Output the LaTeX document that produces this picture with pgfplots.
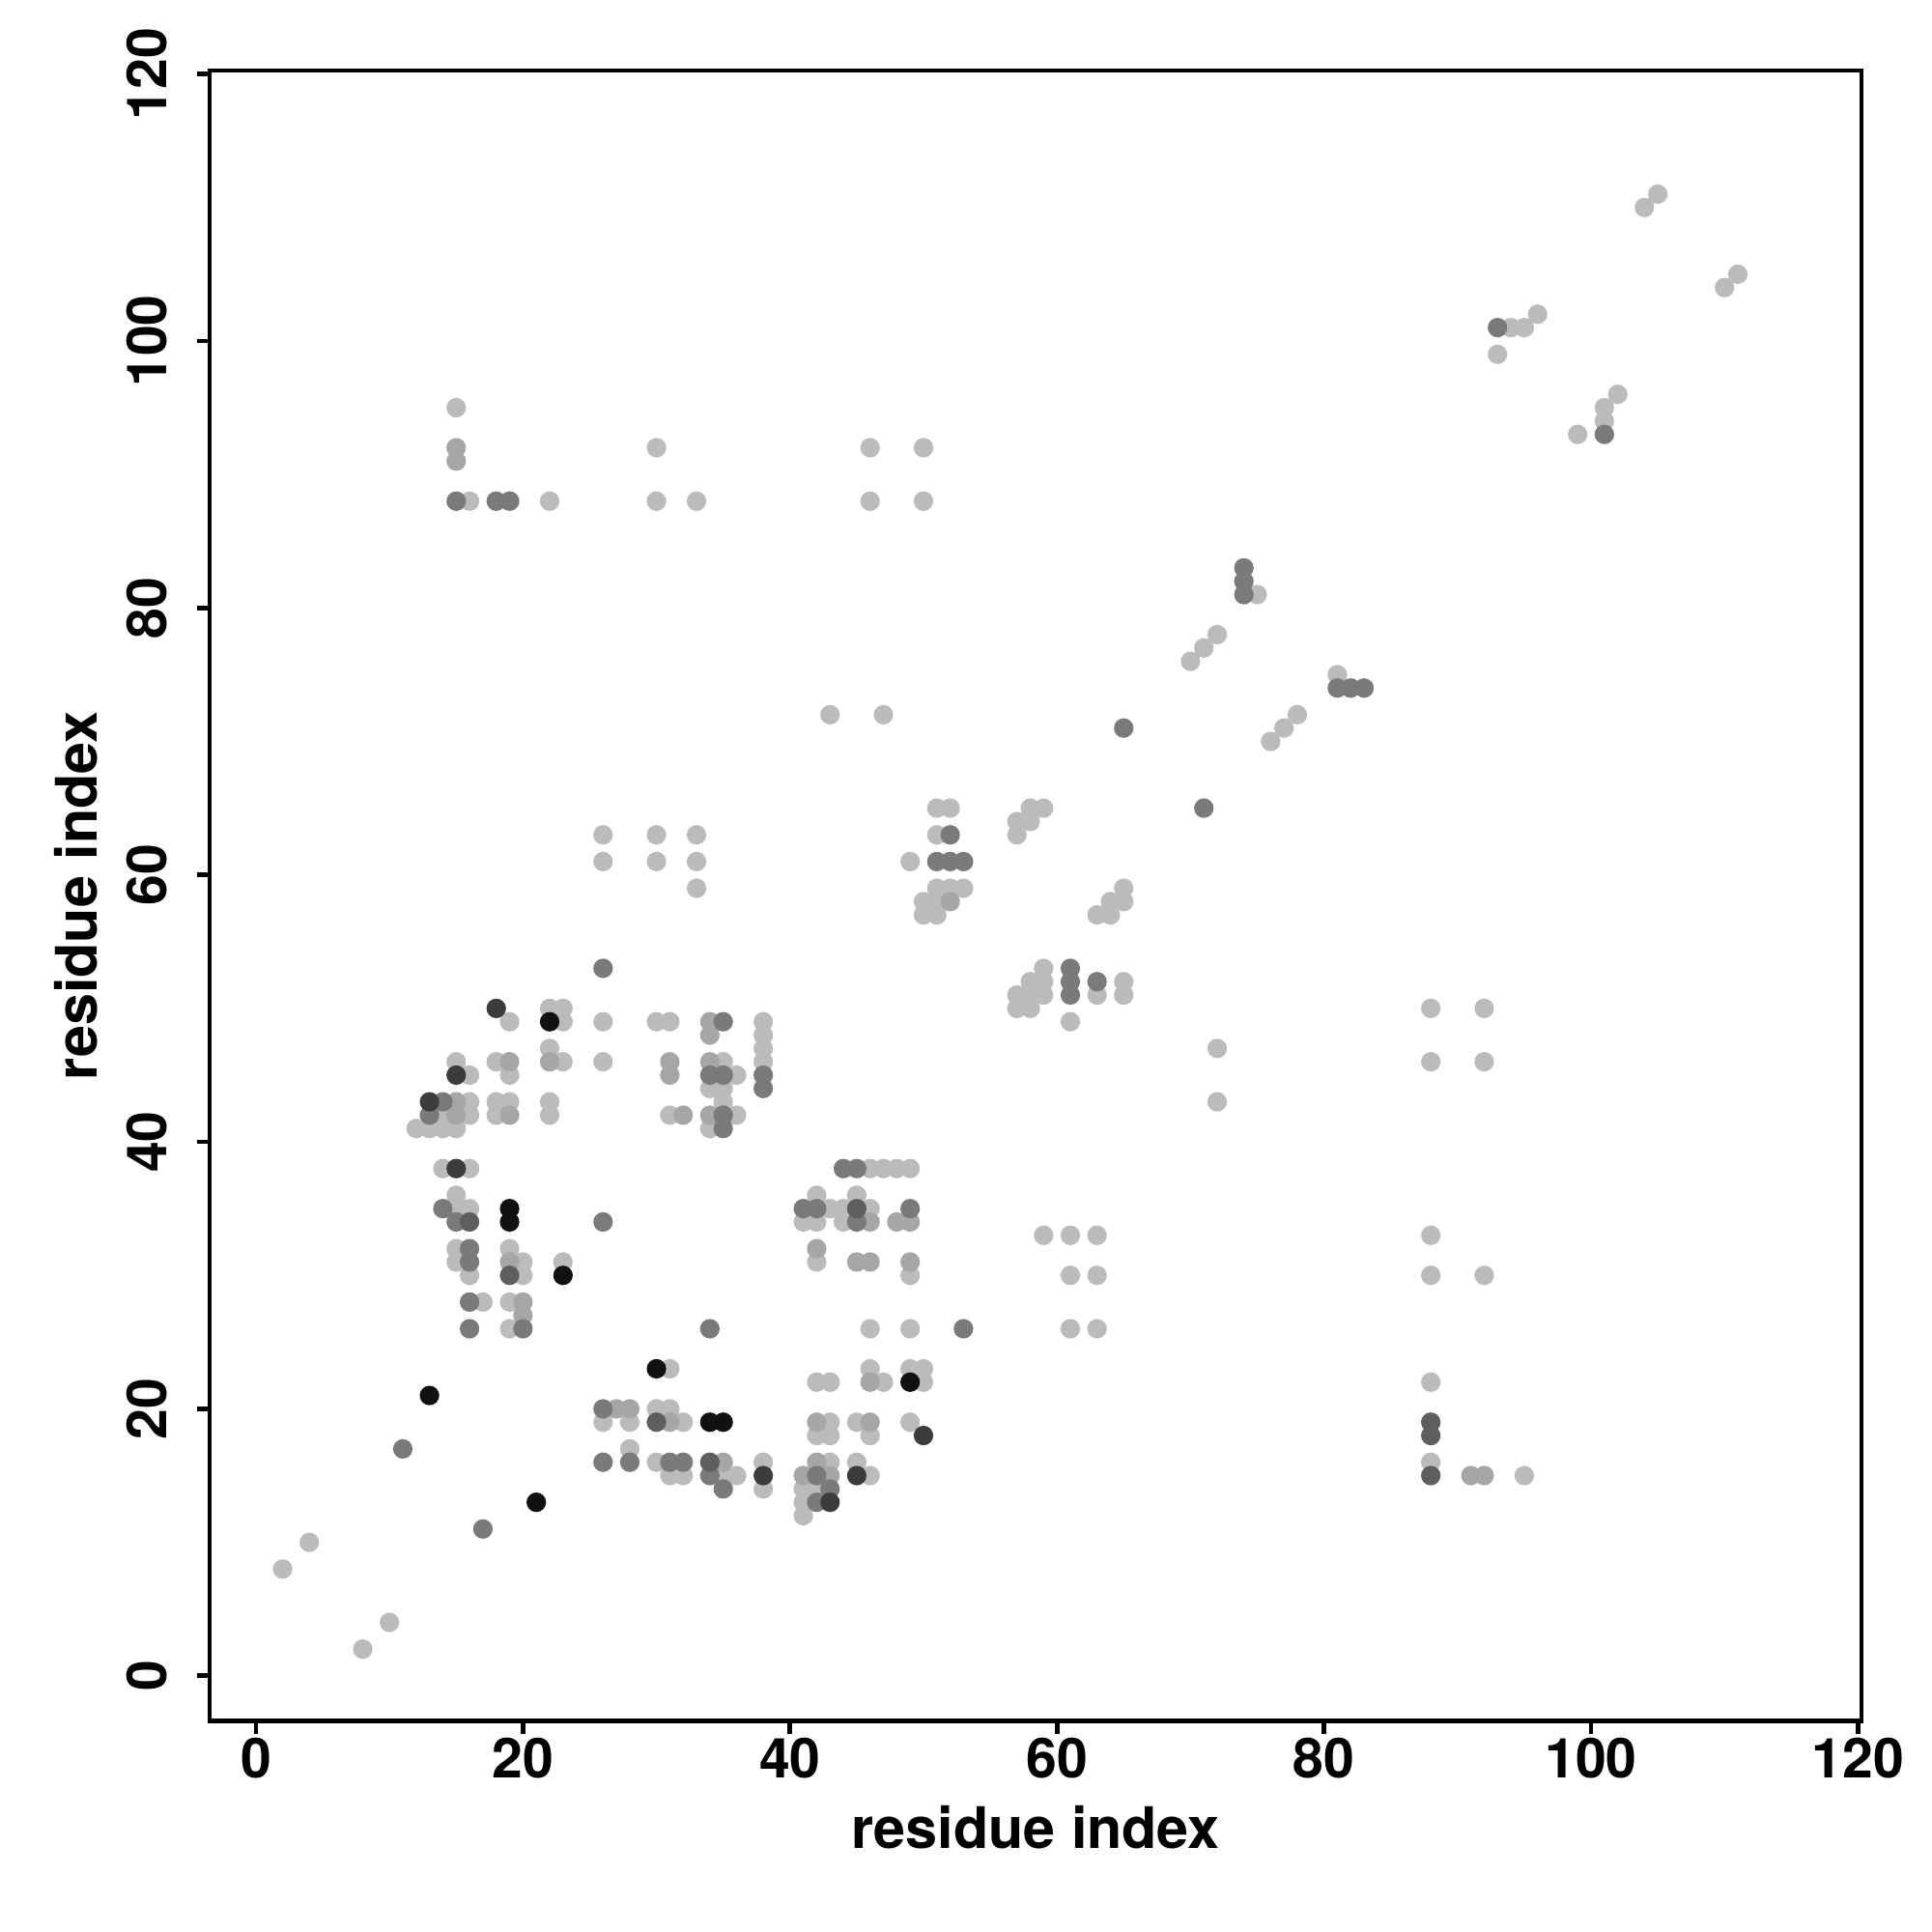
\documentclass[border=0pt]{standalone}
\usepackage{pgfplots}
\pgfplotsset{compat=1.18}
\usepackage{fontspec}
\setmainfont{TeX Gyre Heros}
\definecolor{cLight}{HTML}{BBBBBB}
\definecolor{cMed}{HTML}{A6A6A6}
\definecolor{cDark}{HTML}{7A7A7A}
\definecolor{cDarker}{HTML}{5E5E5E}
\definecolor{cVDark}{HTML}{3C3C3C}
\definecolor{cBlack}{HTML}{111111}
\begin{document}
\begin{tikzpicture}
\useasboundingbox (-1.736cm,-1.744cm) rectangle (14.264cm,14.254cm);
\begin{axis}[
  scale only axis,
  width=13.68cm, height=13.67cm,
  at={(0,0)}, anchor=south west,
  xmin=-3.47, xmax=120.26,
  ymin=-3.40, ymax=120.26,
  xtick={0,20,...,120}, ytick={0,20,...,120},
  tick pos=left, tick align=outside,
  major tick length=0.105cm,
  axis line style={black, line width=1.1pt},
  tick style={black, line width=1.1pt},
  /pgf/number format/assume math mode=true,
  ticklabel style={font=\fontsize{13}{15}\selectfont\bfseries},
  xticklabel style={anchor=center, yshift=-0.205cm},
  yticklabel style={xshift=-0.415cm, rotate=90, anchor=center},
  xlabel={residue index}, ylabel={residue index},
  label style={font=\fontsize{13.5}{16}\selectfont\bfseries},
  xlabel style={at={(axis description cs:0.5,-0.0644)}, anchor=center},
  ylabel style={at={(axis description cs:-0.0807,0.5)}, anchor=center, rotate=0},
  every axis plot/.append style={only marks, mark=*, mark size=2.1pt},
  clip=false,
]
% light
\addplot[color=cLight] coordinates {
(2,8)(4,10)(8,2)(10,4)
(12,41)(13,41)(14,41)(15,41)
(14,38)(16,38)(15,36)(15,35)(16,35)
(15,32)(15,31)(16,30)(19,32)(20,31)(20,30)(17,28)(19,28)(19,26)
(15,46)(16,45)(18,46)(19,45)(16,43)(18,43)(19,43)(14,42)(16,42)(18,42)
(19,49)(22,50)(23,50)(23,49)(22,47)(23,46)(22,43)(22,42)
(26,49)(26,46)(30,49)(31,49)(31,42)(23,31)
(31,23)(30,20)(31,20)(26,19)(28,19)(32,19)(28,17)(30,16)(31,15)(32,15)
(35,46)(36,45)(34,44)(35,44)(35,43)(36,42)(34,41)
(38,49)(38,48)(38,47)(38,46)
(42,36)(45,36)(43,35)(44,35)(46,35)(41,34)(42,34)(44,34)(42,31)
(46,38)(47,38)(48,38)(49,38)
(49,30)(46,26)(49,26)(46,23)(47,22)(49,23)(50,23)(50,22)
(42,22)(43,22)(43,19)(45,19)(42,18)(43,18)(46,18)(49,19)
(38,16)(43,16)(45,16)(35,15)(36,15)(46,15)(38,14)(41,14)(41,13)(41,12)(42,14)
(26,63)(26,61)(30,63)(30,61)(33,63)(33,61)(33,59)
(51,65)(52,65)(51,63)(49,61)(51,59)(52,59)(53,59)(50,58)(51,58)(50,57)(51,57)
(57,63)(57,64)(58,64)(58,65)(59,65)
(63,57)(64,57)(64,58)(65,58)(65,59)
(57,51)(57,50)(58,50)(58,51)(58,52)(59,51)(59,52)(59,53)(61,49)(63,51)(65,52)(65,51)
(72,47)(72,43)
(59,33)(61,33)(63,33)(61,30)(63,30)(61,26)(63,26)
(43,72)(47,72)
(70,76)(71,77)(72,78)(75,81)(81,75)(76,70)(77,71)(78,72)
(15,95)(16,88)(22,88)(30,92)(30,88)(33,88)(46,92)(46,88)(50,92)(50,88)
(104,110)(105,111)(110,104)(111,105)(94,101)(95,101)(96,102)(93,99)(102,96)(101,95)(101,94)(99,93)
(88,50)(92,50)(88,46)(92,46)(88,33)(88,30)(92,30)(88,22)(88,16)(95,15)
};
% medium
\addplot[color=cMed] coordinates {
(15,43)(15,42)(19,46)(19,42)(19,31)(20,28)(20,27)(15,92)(15,91)(27,20)(31,19)(28,20)(22,46)
(31,46)(31,45)(32,42)(34,49)(34,48)(34,46)(34,42)(42,32)(45,31)(46,31)(49,31)
(46,34)(48,34)(49,34)(46,22)(46,19)(42,19)(35,16)(41,15)(43,15)(42,16)(52,58)(91,15)(92,15)
};
% dark
\addplot[color=cDark] coordinates {
(11,17)(17,11)(13,42)(14,43)(14,35)(15,34)(16,32)(16,31)(16,28)(16,26)(20,26)(15,88)(18,88)(19,88)
(26,53)(26,34)(26,20)(26,16)(28,16)(31,16)(32,16)
(35,49)(34,45)(35,45)(35,42)(35,41)(38,45)(38,44)(34,26)(34,15)(35,14)(42,15)(43,14)(42,13)
(44,38)(45,38)(41,35)(42,35)(45,34)(49,35)(53,26)
(52,63)(51,61)(52,61)(53,61)(61,53)(61,52)(61,51)(63,52)
(65,71)(71,65)(74,83)(74,82)(74,81)(81,74)(82,74)(83,74)
(93,101)(101,93)
};
% darker
\addplot[color=cDarker] coordinates {
(16,34)(19,30)(30,19)(34,16)(45,35)(88,19)(88,18)(88,15)
};
% very dark
\addplot[color=cVDark] coordinates {
(18,50)(13,43)(15,45)(15,38)(38,15)(43,13)(45,15)(50,18)
};
% black
\addplot[color=cBlack] coordinates {
(13,21)(21,13)(22,49)(19,35)(19,34)(23,30)(30,23)(34,19)(35,19)(49,22)
};
\end{axis}
\end{tikzpicture}
\end{document}
